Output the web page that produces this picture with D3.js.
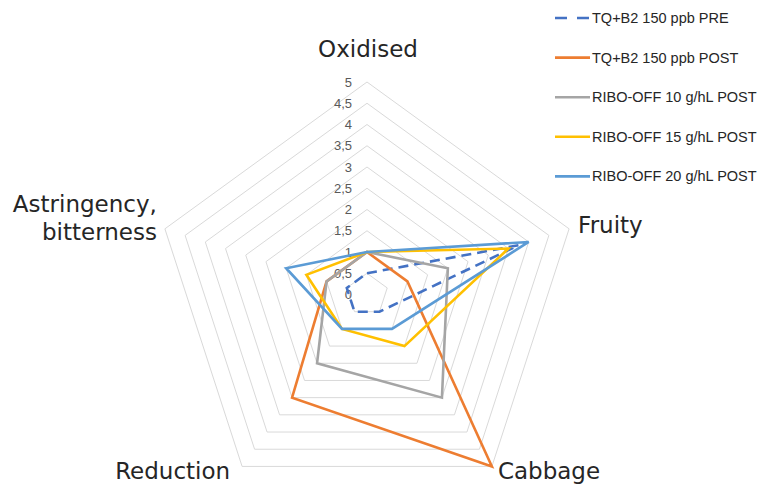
<!DOCTYPE html>
<html>
<head>
<meta charset="utf-8">
<script src="https://cdn.jsdelivr.net/npm/d3@7/dist/d3.min.js"></script>
<style>
  body { margin: 0; background: #fff; }
  svg { display: block; }
</style>
</head>
<body>
<svg id="chart" width="760" height="484"></svg>
<script>
// axes, clockwise from the top
const axes = ["Oxidised", "Fruity", "Cabbage", "Reduction", "Astringency, bitterness"];
const ticks = [0, 0.5, 1, 1.5, 2, 2.5, 3, 3.5, 4, 4.5, 5];

const seriesNames = [
  "TQ+B2 150 ppb PRE",
  "TQ+B2 150 ppb POST",
  "RIBO-OFF 10 g/hL POST",
  "RIBO-OFF 15 g/hL POST",
  "RIBO-OFF 20 g/hL POST"
];
const pre    = [0.5, 3.75, 0.5, 0.5, 0.5];
const post   = [1, 1, 5, 3, 1];
const ribo10 = [1, 2, 3, 2, 1];
const ribo15 = [1, 3.5, 1.5, 1, 1.5];
const ribo20 = [1, 4, 1, 1, 2];
const seriesValues = [pre, post, ribo10, ribo15, ribo20];

const colors = ["#4472C4", "#ED7D31", "#A5A5A5", "#FFC000", "#5B9BD5"];
const dashes = ["10,6", null, null, null, null];

const cx = 367, cy = 294.5;
const svg = d3.select("#chart");
const g = svg.append("g").attr("transform", `translate(${cx},${cy})`);

const r = d3.scaleLinear().domain([0, 5]).range([0, 212.5]);
const angle = d3.scaleLinear().domain([0, axes.length]).range([0, 2 * Math.PI]);

const radial = d3.lineRadial()
  .angle((d, i) => angle(i))
  .radius(d => r(d))
  .curve(d3.curveLinearClosed);

// grid rings
g.selectAll(".ring")
  .data(ticks.filter(t => t > 0))
  .enter().append("path")
  .attr("d", t => radial(axes.map(() => t)))
  .attr("fill", "none")
  .attr("stroke", "#d9d9d9")
  .attr("stroke-width", 1);

// tick labels (comma decimals)
g.selectAll(".tick")
  .data(ticks)
  .enter().append("text")
  .attr("x", -15)
  .attr("y", t => -r(t))
  .attr("dy", "0.35em")
  .attr("text-anchor", "end")
  .attr("font-family", "Liberation Sans, Arial, sans-serif")
  .attr("font-size", 13)
  .attr("fill", "#595959")
  .text(t => String(t).replace(".", ","));

// series
seriesValues.forEach((vals, i) => {
  g.append("path")
    .attr("d", radial(vals))
    .attr("fill", "none")
    .attr("stroke", colors[i])
    .attr("stroke-width", 2.6)
    .attr("stroke-linejoin", "miter")
    .attr("stroke-dasharray", dashes[i]);
});

// axis labels
const labelCfg = [
  { dx: 1, dy: -25, anchor: "middle" },
  { dx: 9, dy: 4, anchor: "start" },
  { dx: 6, dy: 13, anchor: "start" },
  { dx: -12, dy: 13, anchor: "end" },
  { dx: -8, dy: -17, anchor: "end" }
];
axes.forEach((name, i) => {
  const a = angle(i);
  const x = Math.sin(a) * r(5) + labelCfg[i].dx;
  const y = -Math.cos(a) * r(5) + labelCfg[i].dy;
  const lines = name.includes(", ") ? name.split(" ") : [name];
  const t = g.append("text")
    .attr("x", x).attr("y", y)
    .attr("text-anchor", labelCfg[i].anchor)
    .attr("font-family", "DejaVu Sans, Verdana, sans-serif")
    .attr("font-size", 23)
    .attr("fill", "#262626");
  lines.forEach((ln, k) => {
    t.append("tspan").attr("x", x).attr("dy", k === 0 ? 0 : 28).text(ln);
  });
});

// legend
const legend = svg.append("g").attr("transform", "translate(555,18)");
seriesNames.forEach((name, i) => {
  const row = legend.append("g").attr("transform", `translate(0,${i * 39.6})`);
  row.append("line")
    .attr("x1", 0).attr("x2", 35)
    .attr("stroke", colors[i])
    .attr("stroke-width", 2.6)
    .attr("stroke-dasharray", i === 0 ? "12,10" : null);
  row.append("text")
    .attr("x", 37).attr("dy", "0.35em")
    .attr("font-family", "Liberation Sans, Arial, sans-serif")
    .attr("font-size", 14.5)
    .attr("fill", "#262626")
    .text(name);
});
</script>
</body>
</html>
